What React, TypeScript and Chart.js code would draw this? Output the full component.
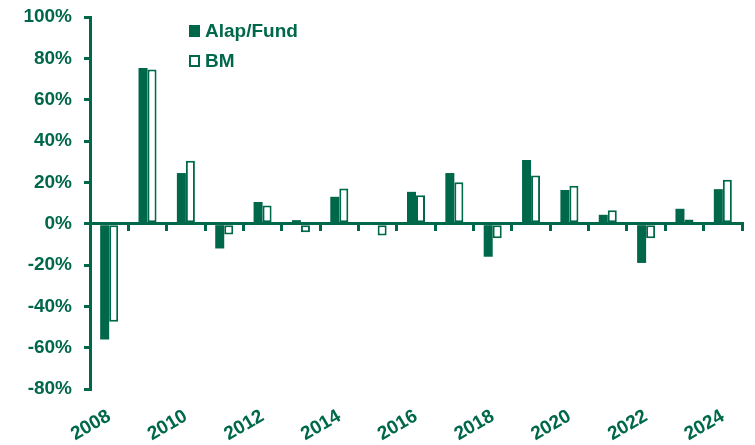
import React, { useEffect, useRef } from 'react';
import { Chart, registerables } from 'chart.js';

Chart.register(...registerables);

const years = ['2008', '2009', '2010', '2011', '2012', '2013', '2014', '2015', '2016', '2017', '2018', '2019', '2020', '2021', '2022', '2023', '2024'];
const fundReturns = [-56, 75.3, 24.5, -12, 10.5, 1.7, 13, 0, 15.4, 24.5, -16, 30.8, 16.3, 4.3, -19, 7.2, 16.7];
const bmReturns = [-47.5, 74.6, 30.4, -5.3, 8.8, -4.2, 17, -5.7, 13.7, 20, -7, 23.3, 18.4, 6.5, -7, 2, 21.3];
const seriesNames = ['Alap/Fund', 'BM'];
const yMin = -80;
const yMax = 100;
const yStep = 20;

const GREEN = '#00684A';
const FONT = '"Liberation Sans", Arial, sans-serif';

const legendPlugin = {
  id: 'customLegend',
  afterDraw(chart: any) {
    const { ctx, chartArea } = chart;
    const x0 = chartArea.left + 99;
    const y0 = chartArea.top + 14;
    const gap = 30;
    ctx.save();
    ctx.font = `bold 19px ${FONT}`;
    ctx.textBaseline = 'middle';
    ctx.textAlign = 'left';
    chart.data.datasets.forEach((ds: any, i: number) => {
      const cy = y0 + i * gap;
      ctx.fillStyle = ds.backgroundColor;
      ctx.fillRect(x0, cy - 6, 11, 12);
      ctx.lineWidth = 2;
      ctx.strokeStyle = ds.borderColor;
      ctx.strokeRect(x0 + 1, cy - 5, 9, 10);
      ctx.fillStyle = GREEN;
      ctx.fillText(ds.label, x0 + 16, cy + 1);
    });
    ctx.restore();
  },
};

export default function App() {
  const canvasRef = useRef<HTMLCanvasElement | null>(null);

  useEffect(() => {
    if (!canvasRef.current) return;
    Chart.defaults.font.family = FONT;
    const chart = new Chart(canvasRef.current, {
      type: 'bar',
      data: {
        labels: years,
        datasets: [
          {
            label: seriesNames[0],
            data: fundReturns,
            backgroundColor: GREEN,
            borderColor: GREEN,
            borderWidth: 0,
            categoryPercentage: 0.47,
            barPercentage: 1,
          },
          {
            label: seriesNames[1],
            data: bmReturns,
            backgroundColor: '#ffffff',
            borderColor: GREEN,
            borderWidth: 2,
            borderSkipped: false,
            categoryPercentage: 0.47,
            barPercentage: 1,
          },
        ],
      },
      options: {
        animation: false,
        responsive: false,
        maintainAspectRatio: false,
        layout: { padding: { top: 17, right: 13, bottom: 0, left: 0 } },
        plugins: {
          legend: { display: false },
          tooltip: { enabled: false },
        },
        scales: {
          x: {
            type: 'category',
            position: { y: 0 } as any,
            offset: true,
            grid: {
              offset: true,
              drawOnChartArea: false,
              drawTicks: true,
              tickLength: 6,
              lineWidth: 3,
              color: GREEN,
              z: 1,
            },
            border: { display: true, color: GREEN, width: 3, z: 1 },
            ticks: { display: false },
          },
          x2: {
            type: 'category',
            position: 'bottom',
            offset: true,
            grid: { display: false, drawTicks: false },
            border: { display: false },
            ticks: {
              autoSkip: false,
              maxRotation: 30,
              minRotation: 30,
              padding: 16,
              color: GREEN,
              font: { size: 19, weight: 'bold', family: FONT },
              callback: (_v: any, i: number) => (i % 2 === 0 ? years[i] : ''),
            },
            afterFit: (scale: any) => {
              scale.height = 56;
            },
          },
          y: {
            min: yMin,
            max: yMax,
            position: 'left',
            grid: {
              drawOnChartArea: false,
              drawTicks: true,
              tickLength: 6,
              lineWidth: 3,
              color: GREEN,
            },
            border: { display: true, color: GREEN, width: 3 },
            ticks: {
              stepSize: yStep,
              padding: 12,
              color: GREEN,
              font: { size: 19, weight: 'bold', family: FONT },
              callback: (v: any) => `${v}%`,
            },
            afterFit: (scale: any) => {
              scale.width = 90;
              scale.paddingTop = 0;
              scale.paddingBottom = 0;
            },
          },
        },
      },
      plugins: [legendPlugin],
    });
    return () => chart.destroy();
  }, []);

  return (
    <div style={{ position: 'fixed', left: 0, top: 0, width: 755, height: 445, background: '#fff' }}>
      <canvas ref={canvasRef} width={755} height={445} style={{ width: 755, height: 445 }} />
    </div>
  );
}
